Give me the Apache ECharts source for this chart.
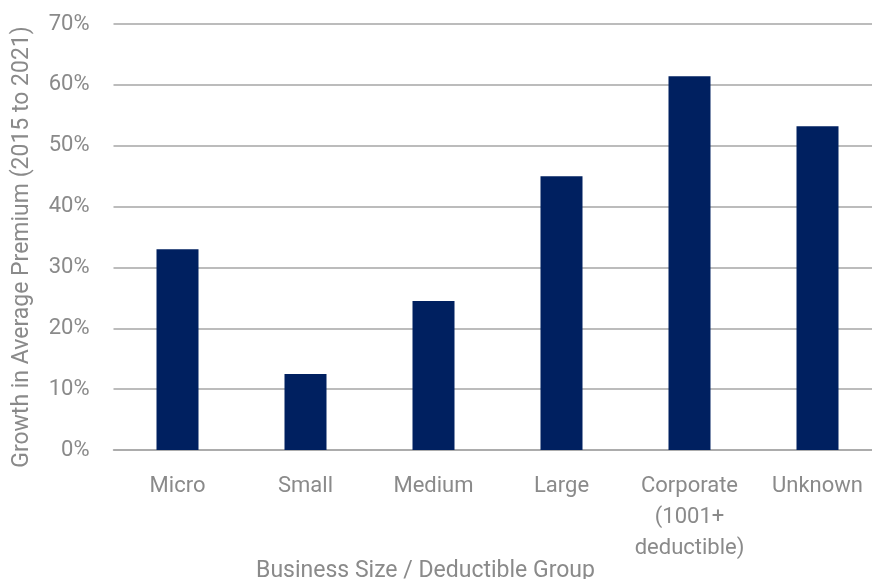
<!DOCTYPE html>
<html>
<head>
<meta charset="utf-8">
<script src="https://cdn.jsdelivr.net/npm/echarts@6/dist/echarts.min.js"></script>
<style>
  html, body { margin: 0; padding: 0; background: #fff; }
  #chart { width: 872px; height: 579px; }
</style>
</head>
<body>
<div id="chart"></div>
<script>
// business size groups (x axis)
const categories = ['Micro', 'Small', 'Medium', 'Large', 'Corporate\n(1001+\ndeductible)', 'Unknown'];
// growth in average premium, 2015 to 2021, in %
const growth = [33.0, 12.5, 24.5, 45.0, 61.4, 53.2];

const textColor = '#8a8a8a';
const fontFamily = 'Roboto, "DejaVu Sans", sans-serif';

const chart = echarts.init(document.getElementById('chart'), null, { renderer: 'canvas' });

chart.setOption({
    animation: false,
    grid: {
        left: 113.5,
        top: 24,
        width: 768,
        height: 426,
        outerBoundsMode: 'none',
        containLabel: false
    },
    xAxis: {
        type: 'category',
        data: categories,
        name: 'Business Size / Deductible Group',
        nameLocation: 'middle',
        nameGap: 110,
        nameMoveOverlap: false,
        nameTextStyle: {
            color: textColor,
            fontSize: 23,
            fontFamily: fontFamily,
            padding: [0, 144, 0, 0]
        },
        axisLine: { lineStyle: { color: '#a6a6a6', width: 1.5 } },
        axisTick: { show: false },
        axisLabel: {
            color: textColor,
            fontSize: 22,
            fontFamily: fontFamily,
            lineHeight: 31,
            margin: 21,
            interval: 0
        }
    },
    yAxis: {
        type: 'value',
        min: 0,
        max: 70,
        interval: 10,
        name: 'Growth in Average Premium (2015 to 2021)',
        nameLocation: 'middle',
        nameGap: 80,
        nameTextStyle: {
            color: textColor,
            fontSize: 23,
            fontFamily: fontFamily,
            padding: [0, 20, 0, 0]
        },
        axisLine: { show: false },
        axisTick: { show: false },
        splitLine: { lineStyle: { color: '#a6a6a6', width: 1.5 } },
        axisLabel: {
            formatter: '{value}%',
            color: textColor,
            fontSize: 22,
            fontFamily: fontFamily,
            margin: 24
        }
    },
    series: [{
        type: 'bar',
        data: growth,
        barWidth: 42,
        itemStyle: { color: '#002060' }
    }]
});
</script>
</body>
</html>
